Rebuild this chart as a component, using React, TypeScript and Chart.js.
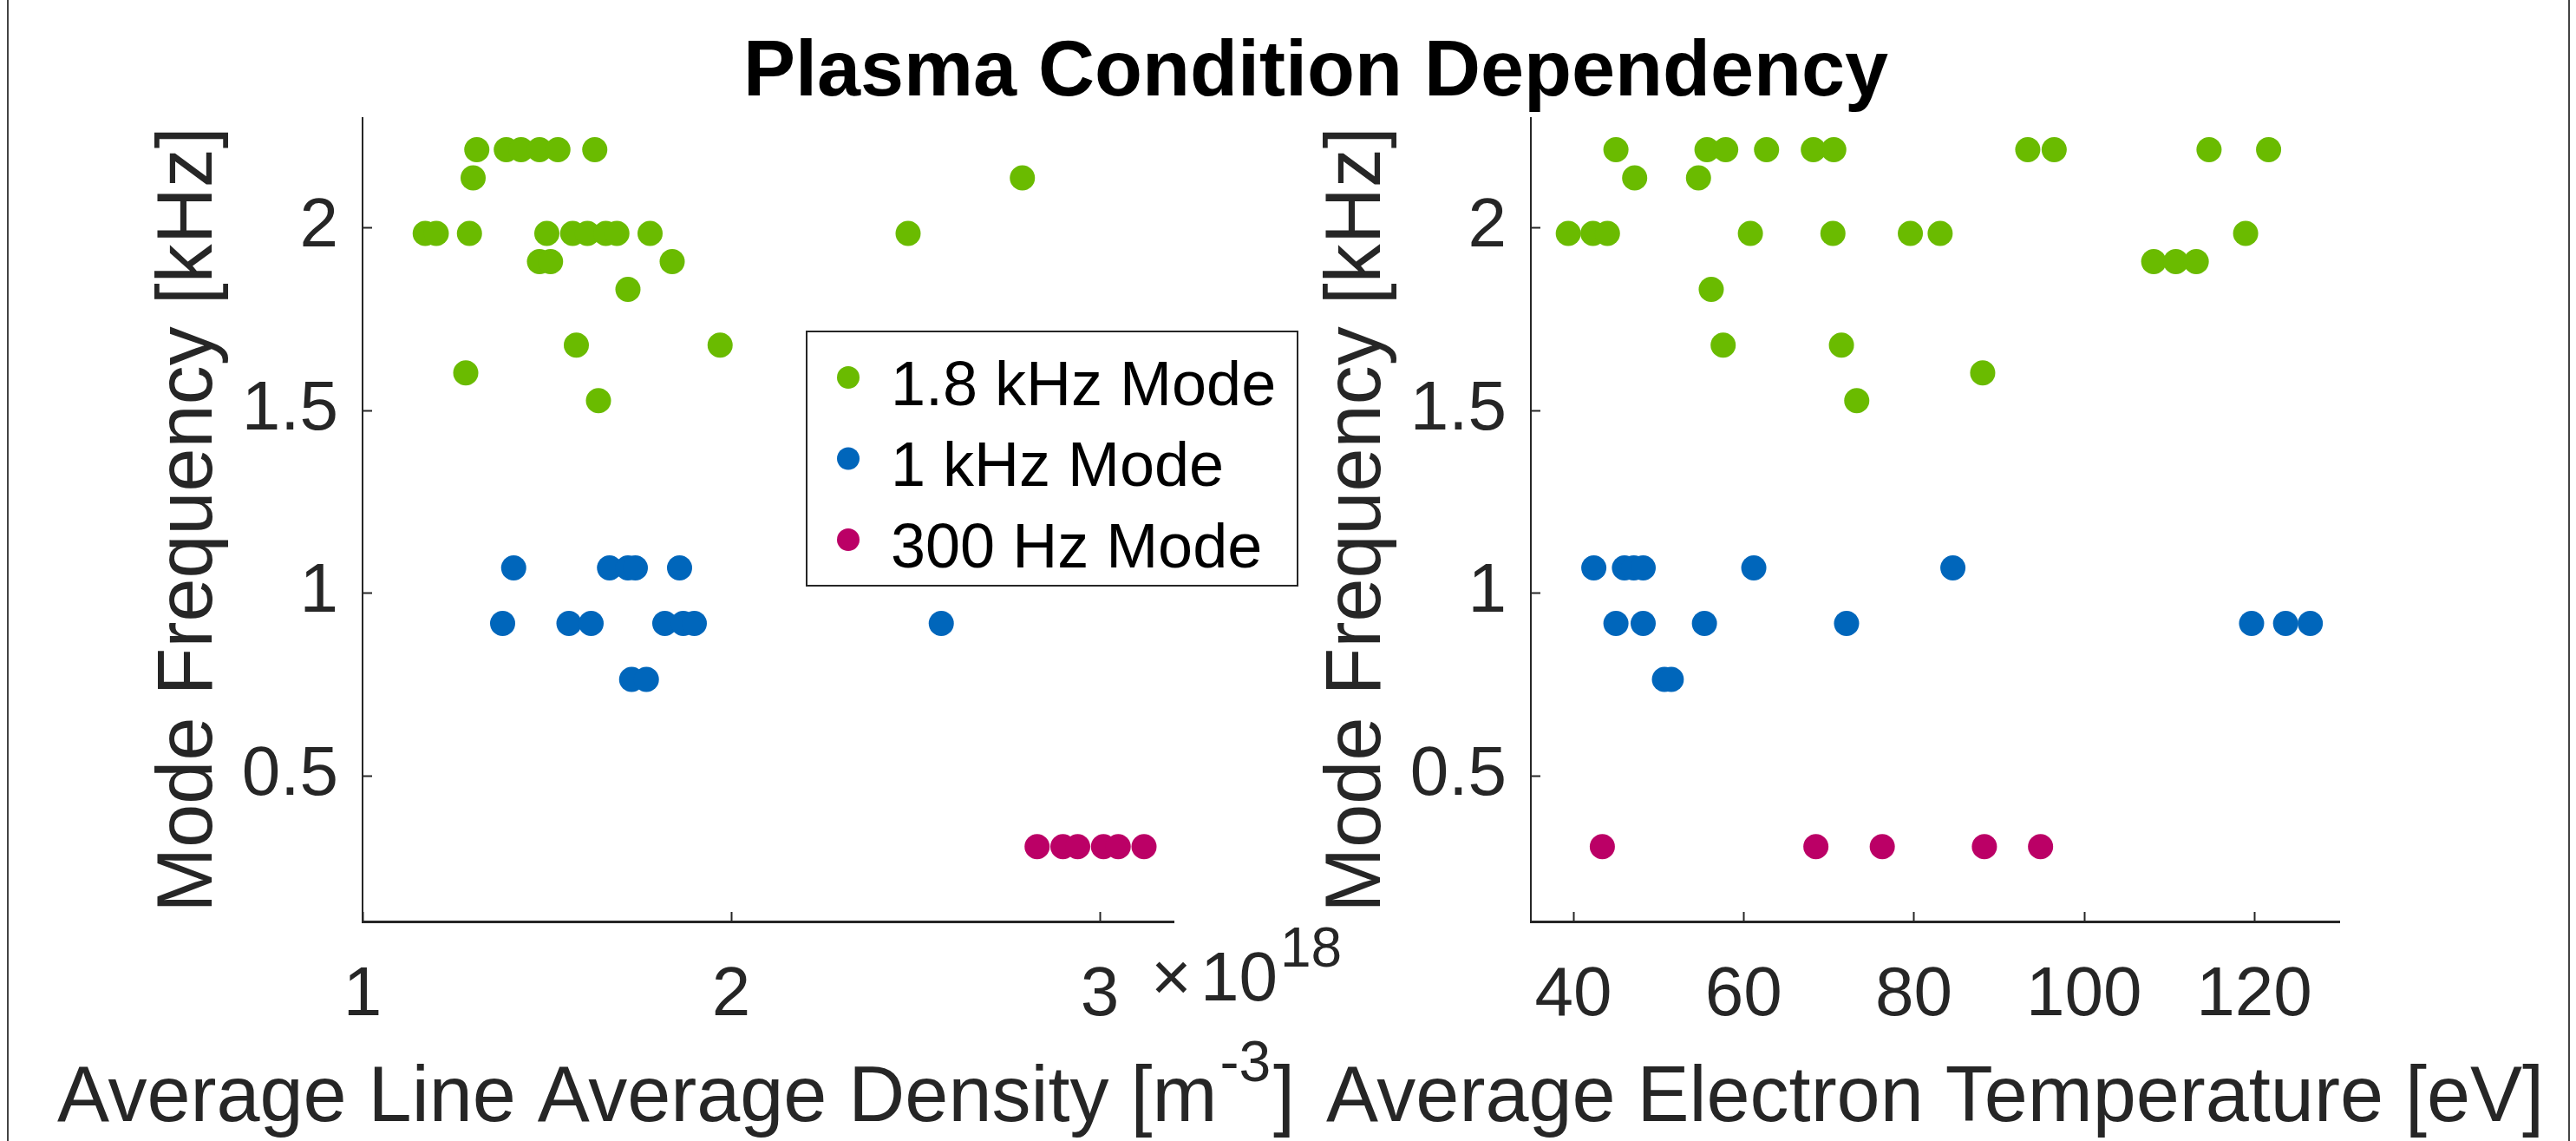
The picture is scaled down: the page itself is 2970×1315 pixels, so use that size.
import React, { useEffect, useRef } from "react";
import { Chart, registerables } from "chart.js";

Chart.register(...registerables);

// ---------- text ----------
const TITLE = "Plasma Condition Dependency";
const Y_LABEL = "Mode Frequency [kHz]";
const X_LABEL_DENSITY = ["Average Line Average Density [m", "-3", "]"];
const X_LABEL_TEMP = "Average Electron Temperature [eV]";
const DENSITY_EXPONENT = "18";
const SERIES_LABELS = ["1.8 kHz Mode", "1 kHz Mode", "300 Hz Mode"];
const SERIES_COLORS = ["#6ABB00", "#0066BB", "#BB0066"];

// ---------- axes ----------
const Y_TICKS = [0.5, 1, 1.5, 2];
const Y_MIN = 0.1;
const Y_MAX = 2.3;
const DENSITY_TICKS = [1, 2, 3]; // x 10^18 m^-3
const DENSITY_MIN = 1;
const DENSITY_MAX = 3.2;
const TEMP_TICKS = [40, 60, 80, 100, 120];
const TEMP_MIN = 35;
const TEMP_MAX = 130;

// ---------- left panel: density (x10^18 m^-3) vs frequency (kHz) ----------
const DENS_18_X = [
  1.31, 1.39, 1.43, 1.48, 1.53, 1.63,
  1.3, 2.79,
  1.17, 1.2, 1.29, 1.5, 1.57, 1.61, 1.66, 1.69, 1.78, 2.48,
  1.48, 1.51, 1.84,
  1.72,
  1.58, 1.97,
  1.28,
  1.64,
];
const DENS_18_Y = [
  2.213, 2.213, 2.213, 2.213, 2.213, 2.213,
  2.136, 2.136,
  1.984, 1.984, 1.984, 1.984, 1.984, 1.984, 1.984, 1.984, 1.984, 1.984,
  1.907, 1.907, 1.907,
  1.831,
  1.678, 1.678,
  1.602,
  1.526,
];
const DENS_10_X = [
  1.41, 1.67, 1.72, 1.74, 1.86,
  1.38, 1.56, 1.62, 1.82, 1.87, 1.9, 2.57,
  1.73, 1.77,
];
const DENS_10_Y = [
  1.068, 1.068, 1.068, 1.068, 1.068,
  0.916, 0.916, 0.916, 0.916, 0.916, 0.916, 0.916,
  0.763, 0.763,
];
const DENS_03_X = [2.83, 2.9, 2.94, 3.01, 3.05, 3.12];
const DENS_03_Y = [0.305, 0.305, 0.305, 0.305, 0.305, 0.305];

// ---------- right panel: temperature (eV) vs frequency (kHz) ----------
const TEMP_18_X = [
  45.0, 55.7, 57.9, 62.7, 68.2, 70.6, 93.4, 96.5, 114.7, 121.7,
  47.2, 54.7,
  39.4, 42.3, 44.0, 60.8, 70.5, 79.6, 83.1, 119.0,
  108.2, 110.8, 113.2,
  56.2,
  57.6, 71.5,
  88.1,
  73.3,
];
const TEMP_18_Y = [
  2.213, 2.213, 2.213, 2.213, 2.213, 2.213, 2.213, 2.213, 2.213, 2.213,
  2.136, 2.136,
  1.984, 1.984, 1.984, 1.984, 1.984, 1.984, 1.984, 1.984,
  1.907, 1.907, 1.907,
  1.831,
  1.678, 1.678,
  1.602,
  1.526,
];
const TEMP_10_X = [
  42.4, 46.0, 47.1, 48.2, 61.2, 84.6,
  45.0, 48.2, 55.4, 72.1, 119.7, 123.7, 126.6,
  50.7, 51.5,
];
const TEMP_10_Y = [
  1.068, 1.068, 1.068, 1.068, 1.068, 1.068,
  0.916, 0.916, 0.916, 0.916, 0.916, 0.916, 0.916,
  0.763, 0.763,
];
const TEMP_03_X = [43.4, 68.5, 76.3, 88.3, 94.9];
const TEMP_03_Y = [0.305, 0.305, 0.305, 0.305, 0.305];

// ---------- style ----------
const FONT = '"Liberation Sans", Arial, Helvetica, sans-serif';
const AXIS_COLOR = "#262626";
const W = 2970;
const H = 1315;
const Y_BOX = 220;
const X_BOX = 200;

const toPoints = (xs: number[], ys: number[]) => xs.map((x, i) => ({ x, y: ys[i] }));

function makeDatasets(series: [number[], number[]][]) {
  return series.map(([xs, ys], i) => ({
    label: SERIES_LABELS[i],
    data: toPoints(xs, ys),
    backgroundColor: SERIES_COLORS[i],
    borderColor: SERIES_COLORS[i],
    borderWidth: 0,
    pointRadius: 14.5,
    pointHoverRadius: 14.5,
    pointStyle: "circle",
    showLine: false,
  }));
}

const inwardTicks = {
  id: "inwardTicks",
  afterDraw(chart: any) {
    const { ctx, chartArea } = chart;
    const x = chart.scales.x;
    const y = chart.scales.y;
    ctx.save();
    ctx.strokeStyle = AXIS_COLOR;
    ctx.lineWidth = 2;
    x.ticks.forEach((t: any) => {
      const px = Math.round(x.getPixelForValue(t.value)) + 0.5;
      ctx.beginPath();
      ctx.moveTo(px, chartArea.bottom);
      ctx.lineTo(px, chartArea.bottom - 11);
      ctx.stroke();
    });
    y.ticks.forEach((t: any) => {
      const py = Math.round(y.getPixelForValue(t.value)) + 0.5;
      ctx.beginPath();
      ctx.moveTo(chartArea.left, py);
      ctx.lineTo(chartArea.left + 11, py);
      ctx.stroke();
    });
    ctx.restore();
  },
};

function drawYLabel(ctx: CanvasRenderingContext2D, chartArea: any) {
  ctx.save();
  ctx.translate(chartArea.left - 174, (chartArea.top + chartArea.bottom) / 2);
  ctx.rotate(-Math.PI / 2);
  ctx.font = `90px ${FONT}`;
  ctx.fillStyle = AXIS_COLOR;
  ctx.textAlign = "center";
  ctx.textBaseline = "alphabetic";
  ctx.fillText(Y_LABEL, 0, 0);
  ctx.restore();
}

const leftDecor = {
  id: "leftDecor",
  afterDraw(chart: any) {
    const ctx: CanvasRenderingContext2D = chart.ctx;
    const ca = chart.chartArea;
    ctx.save();
    // title
    ctx.fillStyle = "#000";
    ctx.font = `bold 90px ${FONT}`;
    ctx.textAlign = "center";
    ctx.textBaseline = "alphabetic";
    ctx.fillText(TITLE, 1517, 110);

    drawYLabel(ctx, ca);

    // x label with superscript
    ctx.fillStyle = AXIS_COLOR;
    ctx.textAlign = "left";
    ctx.font = `90px ${FONT}`;
    let xPos = 66;
    const base = 1292;
    ctx.fillText(X_LABEL_DENSITY[0], xPos, base);
    xPos += ctx.measureText(X_LABEL_DENSITY[0]).width + 3;
    ctx.font = `66px ${FONT}`;
    ctx.fillText(X_LABEL_DENSITY[1], xPos, base - 46);
    xPos += ctx.measureText(X_LABEL_DENSITY[1]).width + 3;
    ctx.font = `90px ${FONT}`;
    ctx.fillText(X_LABEL_DENSITY[2], xPos, base);

    // exponent label
    ctx.font = `80px ${FONT}`;
    ctx.fillText("\u00D7", 1327, 1153);
    ctx.fillText("10", 1384, 1153);
    ctx.font = `64px ${FONT}`;
    ctx.fillText(DENSITY_EXPONENT, 1476, 1114);

    // legend
    const bx = 930, by = 382, bw = 566, bh = 293;
    ctx.fillStyle = "#fff";
    ctx.fillRect(bx, by, bw, bh);
    ctx.strokeStyle = AXIS_COLOR;
    ctx.lineWidth = 2;
    ctx.strokeRect(bx, by, bw, bh);
    chart.data.datasets.forEach((ds: any, i: number) => {
      const cy = 435 + i * 93.5;
      ctx.beginPath();
      ctx.fillStyle = ds.backgroundColor;
      ctx.arc(978, cy, 13, 0, Math.PI * 2);
      ctx.fill();
      ctx.fillStyle = "#000";
      ctx.font = `72px ${FONT}`;
      ctx.textAlign = "left";
      ctx.fillText(ds.label, 1027, cy + 31.5);
    });
    ctx.restore();
  },
};

const rightDecor = {
  id: "rightDecor",
  afterDraw(chart: any) {
    const ctx: CanvasRenderingContext2D = chart.ctx;
    const ca = chart.chartArea;
    ctx.save();
    drawYLabel(ctx, ca);
    ctx.fillStyle = AXIS_COLOR;
    ctx.font = `90px ${FONT}`;
    ctx.textAlign = "center";
    ctx.textBaseline = "alphabetic";
    ctx.fillText(X_LABEL_TEMP, (ca.left + ca.right) / 2, 1292);
    ctx.restore();
  },
};

function makeConfig(
  datasets: any[],
  xMin: number,
  xMax: number,
  xTicks: number[],
  padding: any,
  decor: any
): any {
  return {
    type: "scatter",
    data: { datasets },
    options: {
      responsive: false,
      animation: false,
      devicePixelRatio: 1,
      events: [],
      layout: { padding },
      plugins: {
        legend: { display: false },
        tooltip: { enabled: false },
        title: { display: false },
      },
      scales: {
        x: {
          type: "linear",
          position: "bottom",
          min: xMin,
          max: xMax,
          afterBuildTicks: (s: any) => {
            s.ticks = xTicks.map((v) => ({ value: v }));
          },
          afterFit: (s: any) => {
            s.height = X_BOX;
          },
          grid: { display: true, drawOnChartArea: false, drawTicks: false },
          border: { display: true, color: AXIS_COLOR, width: 3 },
          ticks: {
            font: { family: FONT, size: 80 },
            color: AXIS_COLOR,
            padding: 38,
            maxRotation: 0,
            autoSkip: false,
            callback: (v: any) => String(v),
          },
        },
        y: {
          type: "linear",
          position: "left",
          min: Y_MIN,
          max: Y_MAX,
          afterBuildTicks: (s: any) => {
            s.ticks = Y_TICKS.map((v) => ({ value: v }));
          },
          afterFit: (s: any) => {
            s.width = Y_BOX;
          },
          grid: { display: true, drawOnChartArea: false, drawTicks: false },
          border: { display: true, color: AXIS_COLOR, width: 2 },
          ticks: {
            font: { family: FONT, size: 80 },
            color: AXIS_COLOR,
            padding: 28,
            autoSkip: false,
            callback: (v: any) => String(v),
          },
        },
      },
    },
    plugins: [inwardTicks, decor],
  };
}

export default function App() {
  const leftRef = useRef<HTMLCanvasElement>(null);
  const rightRef = useRef<HTMLCanvasElement>(null);

  useEffect(() => {
    const left = new Chart(
      leftRef.current as HTMLCanvasElement,
      makeConfig(
        makeDatasets([
          [DENS_18_X, DENS_18_Y],
          [DENS_10_X, DENS_10_Y],
          [DENS_03_X, DENS_03_Y],
        ]),
        DENSITY_MIN,
        DENSITY_MAX,
        DENSITY_TICKS,
        { left: 418 - Y_BOX, right: W - 1353, top: 136, bottom: H - 1062 - X_BOX },
        leftDecor
      )
    );
    const right = new Chart(
      rightRef.current as HTMLCanvasElement,
      makeConfig(
        makeDatasets([
          [TEMP_18_X, TEMP_18_Y],
          [TEMP_10_X, TEMP_10_Y],
          [TEMP_03_X, TEMP_03_Y],
        ]),
        TEMP_MIN,
        TEMP_MAX,
        TEMP_TICKS,
        { left: 1765 - Y_BOX, right: W - 2697, top: 136, bottom: H - 1062 - X_BOX },
        rightDecor
      )
    );
    return () => {
      left.destroy();
      right.destroy();
    };
  }, []);

  const canvasStyle: React.CSSProperties = {
    position: "absolute",
    left: 0,
    top: 0,
    width: W,
    height: H,
  };

  return (
    <div
      style={{
        position: "fixed",
        left: 0,
        top: 0,
        width: W,
        height: H,
        background: "#fff",
        overflow: "hidden",
      }}
    >
      <canvas ref={leftRef} width={W} height={H} style={canvasStyle} />
      <canvas ref={rightRef} width={W} height={H} style={canvasStyle} />
      <div style={{ position: "absolute", left: 8, top: 0, width: 2, height: H, background: "#444" }} />
      <div style={{ position: "absolute", left: 2961, top: 0, width: 2, height: H, background: "#444" }} />
    </div>
  );
}
